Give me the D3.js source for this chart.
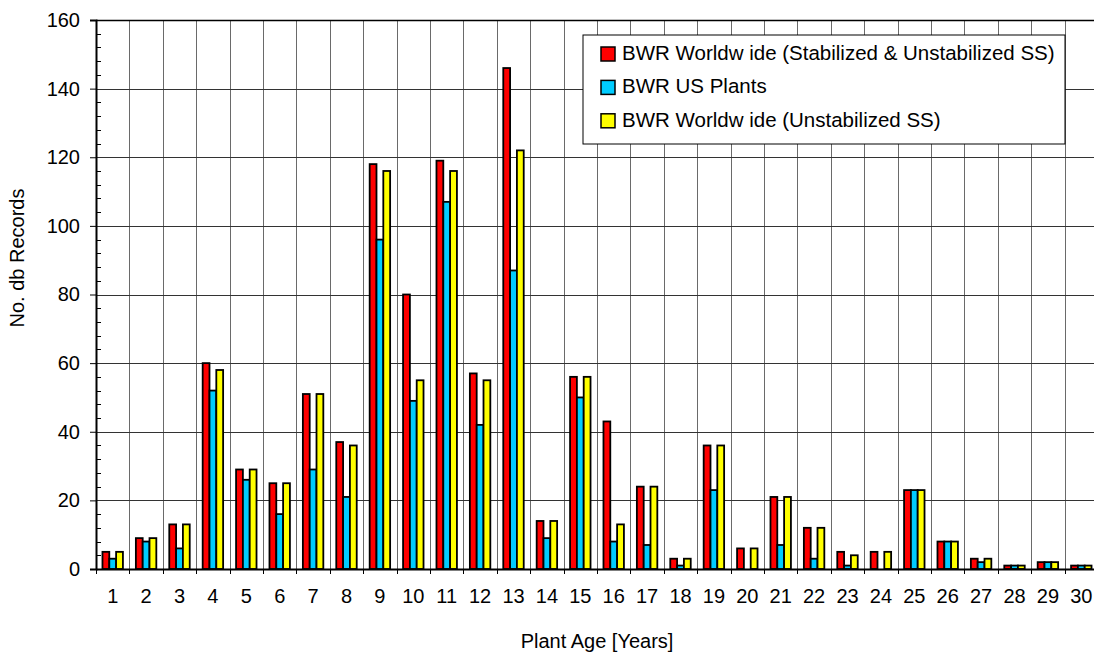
<!DOCTYPE html>
<html>
<head>
<meta charset="utf-8">
<script src="https://cdn.jsdelivr.net/npm/d3@7"></script>
<style>
  body { margin: 0; background: #fff; }
  text { font-family: "Liberation Sans", Arial, sans-serif; }
</style>
</head>
<body>
<svg id="chart"></svg>
<script>
// data
var categories = [1, 2, 3, 4, 5, 6, 7, 8, 9, 10, 11, 12, 13, 14, 15,
                  16, 17, 18, 19, 20, 21, 22, 23, 24, 25, 26, 27, 28, 29, 30]
var worldwideAll = [5, 9, 13, 60, 29, 25, 51, 37, 118, 80, 119, 57, 146, 14, 56,
                    43, 24, 3, 36, 6, 21, 12, 5, 5, 23, 8, 3, 1, 2, 1]
var usPlants = [3, 8, 6, 52, 26, 16, 29, 21, 96, 49, 107, 42, 87, 9, 50,
                8, 7, 1, 23, 0, 7, 3, 1, 0, 23, 8, 2, 1, 2, 1]
var worldwideUnstab = [5, 9, 13, 58, 29, 25, 51, 36, 116, 55, 116, 55, 122, 14, 56,
                       13, 24, 3, 36, 6, 21, 12, 4, 5, 23, 8, 3, 1, 2, 1]
var seriesNames = ["BWR Worldw ide (Stabilized & Unstabilized SS)", "BWR US Plants", "BWR Worldw ide (Unstabilized SS)"]
var seriesColors = ["#ff0000", "#00ccff", "#ffff00"]
var yTicks = [0, 20, 40, 60, 80, 100, 120, 140, 160]

// set the dimensions and margins of the graph
var margin = {top: 20, right: -4, bottom: 86, left: 96},
  width = 1094 - margin.left - margin.right,
  height = 655 - margin.top - margin.bottom;

var svg = d3.select("#chart")
  .attr("width", 1094)
  .attr("height", 655)
  .append("g")
  .attr("transform", "translate(" + margin.left + "," + margin.top + ")");

var table = categories.map(function(c, i) {
  return {cat: c, values: [worldwideAll[i], usPlants[i], worldwideUnstab[i]]}
})

// scales
var x = d3.scaleBand().domain(categories).range([0, width]).padding(0)
var xSub = d3.scaleBand().domain([0, 1, 2]).range([0, x.bandwidth()]).paddingOuter(0.95)
var y = d3.scaleLinear().domain([0, 160]).range([height, 0])

// gridlines
svg.append("g")
  .selectAll("line")
  .data(categories.slice(1))
  .enter()
  .append("line")
  .attr("x1", function(d) { return Math.round(x(d)) + 0.5 })
  .attr("x2", function(d) { return Math.round(x(d)) + 0.5 })
  .attr("y1", 0)
  .attr("y2", height)
  .attr("stroke", "#6a6a6a")
  .attr("stroke-width", 1)

svg.append("g")
  .selectAll("line")
  .data(yTicks.slice(1))
  .enter()
  .append("line")
  .attr("x1", 0)
  .attr("x2", width)
  .attr("y1", function(d) { return Math.round(y(d)) + 0.5 })
  .attr("y2", function(d) { return Math.round(y(d)) + 0.5 })
  .attr("stroke", function(d) { return d == 160 ? "#000" : "#333" })
  .attr("stroke-width", function(d) { return d == 160 ? 1.5 : 1 })

// bars
var groups = svg.append("g")
  .selectAll("g")
  .data(table)
  .enter()
  .append("g")
  .attr("transform", function(d) { return "translate(" + x(d.cat) + ",0)" })

groups.selectAll("rect")
  .data(function(d) { return d.values })
  .enter()
  .append("rect")
  .attr("x", function(d, i) { return xSub(i) })
  .attr("width", xSub.bandwidth())
  .attr("y", function(d) { return y(d) })
  .attr("height", function(d) { return height - y(d) })
  .attr("fill", function(d, i) { return seriesColors[i] })
  .attr("stroke", "#000")
  .attr("stroke-width", 1.8)
  .style("display", function(d) { return d > 0 ? null : "none" })

// y axis
var yAxis = svg.append("g")
  .call(d3.axisLeft(y).tickValues(yTicks).tickSize(6).tickPadding(10))
yAxis.select(".domain").attr("stroke-width", 2)
yAxis.selectAll("text").style("font-size", "20px").attr("fill", "#000")

// minor ticks on the inside
svg.append("g")
  .selectAll("line")
  .data(d3.range(4, 160, 4).filter(function(v) { return v % 20 != 0 }))
  .enter()
  .append("line")
  .attr("x1", 0)
  .attr("x2", 5)
  .attr("y1", function(d) { return Math.round(y(d)) + 0.5 })
  .attr("y2", function(d) { return Math.round(y(d)) + 0.5 })
  .attr("stroke", "#000")

// x axis
var xAxis = svg.append("g")
  .attr("transform", "translate(0," + height + ")")
  .call(d3.axisBottom(x).tickSize(0).tickPadding(20))
xAxis.select(".domain").attr("stroke-width", 2)
xAxis.selectAll("text").style("font-size", "20px").attr("fill", "#000")

svg.append("g")
  .selectAll("line")
  .data(categories)
  .enter()
  .append("line")
  .attr("x1", function(d) { return Math.round(x(d)) + 0.5 })
  .attr("x2", function(d) { return Math.round(x(d)) + 0.5 })
  .attr("y1", height)
  .attr("y2", height + 5)
  .attr("stroke", "#000")

// axis titles
svg.append("text")
  .attr("x", width / 2)
  .attr("y", height + 79)
  .attr("text-anchor", "middle")
  .style("font-size", "20px")
  .text("Plant Age [Years]")

svg.append("text")
  .attr("transform", "translate(" + (-72) + "," + (238) + ") rotate(-90)")
  .attr("text-anchor", "middle")
  .style("font-size", "20px")
  .text("No. db Records")

// legend
var legend = svg.append("g")
  .attr("transform", "translate(" + (583 - margin.left) + "," + (35 - margin.top) + ")")

legend.append("rect")
  .attr("width", 482)
  .attr("height", 109)
  .attr("fill", "#fff")
  .attr("stroke", "#000")

var rows = legend.selectAll("g")
  .data(seriesNames)
  .enter()
  .append("g")
  .attr("transform", function(d, i) { return "translate(18," + (12 + i * 33.4) + ")" })

rows.append("rect")
  .attr("width", 14)
  .attr("height", 14)
  .attr("fill", function(d, i) { return seriesColors[i] })
  .attr("stroke", "#000")
  .attr("stroke-width", 1.5)

rows.append("text")
  .attr("x", 21)
  .attr("y", 13)
  .style("font-size", "20.5px")
  .text(function(d) { return d })
</script>
</body>
</html>
